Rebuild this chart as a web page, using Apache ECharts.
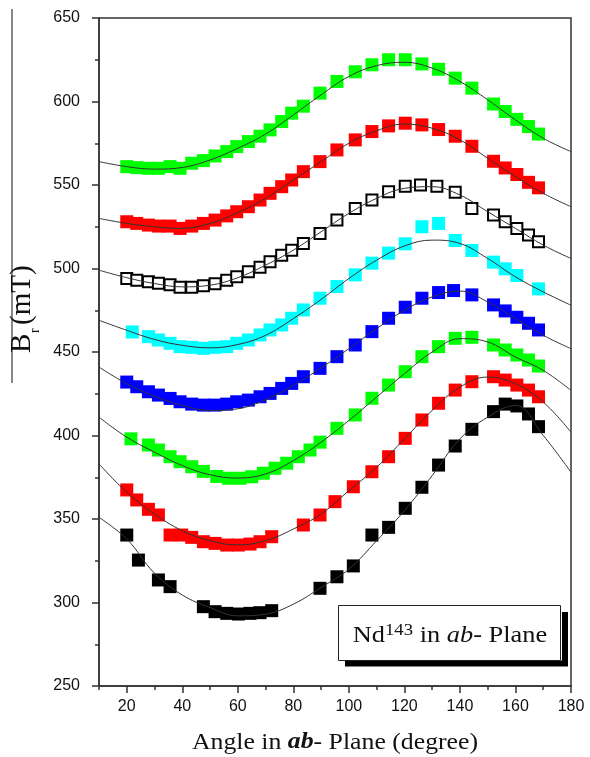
<!DOCTYPE html>
<html><head><meta charset="utf-8">
<script src="https://cdn.jsdelivr.net/npm/echarts@6/dist/echarts.min.js"></script>
<style>html,body{margin:0;padding:0;background:#fff}#c{width:590px;height:757px}</style>
</head><body><div id="c"></div>
<script>
// ---- data (angle in degrees, B_r in mT) ----
const xTickValues = [20,40,60,80,100,120,140,160,180];
const xMinorTickValues = [10,30,50,70,90,110,130,150,170];
const curveAngles = [10,20,30,40,50,60,70,80,90,100,110,120,130,140,150,160,170,180];

const greenTop = [[20,561],[23.6,560.4],[27.8,560],[31.4,560],[35.6,561],[39.2,560],[43.4,563],[47.6,564.6],[51.8,567.4],[56,570],[59.6,573],[63.8,576],[68,579.2],[71.6,583],[75.8,588],[79.4,593],[83.6,597.2],[89.6,605],[95.7,612],[102.3,617.8],[108.3,622],[114.3,625],[120.3,625],[126.3,622.5],[132.3,619.3],[138.3,614],[144.3,608],[152.1,598.5],[156.3,594],[160.5,589.3],[164.7,585],[168.3,580.5]];
const redTop = [[20,528],[23.6,527],[27.8,526],[31.4,525.4],[35.6,525.4],[39.2,524],[43.4,525.4],[47.6,527],[51.8,529],[56,531.5],[59.6,534],[63.8,537],[68,541],[71.6,545],[75.8,549],[79.4,553],[83.6,558],[89.6,564],[95.7,571],[102.3,577],[108.3,582],[114.3,585.4],[120.3,587],[126.3,586],[132.3,583.2],[138.3,579.2],[144.3,573.2],[152.1,564.2],[156.3,560.2],[160.5,556.3],[164.7,551.6],[168.3,548.3]];
const openBlack = [[20,494],[23.6,493],[27.8,492],[31.4,491.2],[35.6,490.2],[39.2,488.8],[43.4,488.8],[47.6,489.6],[51.8,490.8],[56,493],[59.6,495],[63.8,498],[68,500.7],[71.6,504],[75.8,508],[79.4,511],[83.6,515],[89.6,521],[95.7,529],[102.3,536],[108.3,541],[114.3,546],[120.3,549.3],[125.8,550],[131.7,549.3],[138.3,545.6],[144.3,536],[152.1,532],[156.3,528],[160.5,524],[164.7,520],[168.3,516]];
const cyan = [[22,462],[27.8,459.2],[31.4,457.2],[35.6,455.2],[39.2,453.2],[43.4,452.8],[47.6,452.2],[51.8,452.8],[56,453.2],[59.6,455.2],[63.8,457.2],[68,460.2],[71.6,463.2],[75.8,466.2],[79.4,470.2],[83.6,475.2],[89.6,482.2],[95.7,489.2],[102.3,496.2],[108.3,503.2],[114.3,509.2],[120.3,514.8],[126.3,525],[132.3,527],[138.3,516.8],[144.3,510.8],[152.1,503.8],[156.3,499.8],[160.5,495.8],[168.3,487.8]];
const blue = [[20,432],[23.6,429.2],[27.8,426.2],[31.4,424.2],[35.6,422.2],[39.2,420.2],[43.4,418.8],[47.6,418.2],[51.8,418.2],[56,418.8],[59.6,420.2],[63.8,421.2],[68,423.2],[71.6,425.2],[75.8,428.2],[79.4,431.2],[83.6,435.2],[89.6,440.2],[95.7,447.2],[102.3,454.2],[108.3,462.2],[114.3,470.2],[120.3,476.8],[126.3,482.2],[132.3,485.6],[137.7,486.8],[144.3,484.2],[152.1,478.2],[156.3,474.6],[160.5,470.8],[164.7,467.2],[168.3,463.2]];
const greenLow = [[21.5,398],[27.8,394.3],[31.4,391.3],[35.6,387.3],[39.2,384.3],[43.4,381.3],[47.6,378.5],[52.4,375.5],[56.6,374.4],[60.8,374.4],[65,375.3],[69.2,377.4],[73.4,380.4],[77.6,383.4],[81.8,387.3],[86,391.3],[89.6,396],[95.7,404.3],[102.3,412.3],[108.3,422.3],[114.3,430.2],[120.3,438.2],[126.3,447.2],[132.3,453.2],[138.3,458.2],[144.3,458.8],[152.1,454.2],[156.3,451.2],[160.5,448.2],[164.7,445.2],[168.3,441.6]];
const redLow = [[20,367.4],[23.6,361.4],[27.8,355.8],[31.4,352.4],[35.6,340.4],[39.8,340.4],[43.4,339],[47.6,336.4],[51.8,335.4],[56,334.4],[60.2,334.4],[64.4,335],[68,336.4],[72.2,339.4],[83.6,346.4],[89.6,352.4],[95,360.4],[101.6,369.3],[108.3,378.3],[114.3,387.3],[120.3,398.3],[126.3,409.3],[132.3,419.3],[138.3,427.2],[144.3,432.2],[152.1,435.2],[156.3,433.2],[160.5,430.2],[164.7,427.2],[168.3,423.2]];
const blackLow = [[20,340.4],[24.2,325.4],[31.4,313.5],[35.6,309.5],[47.6,297.5],[51.8,294.5],[56,293.5],[60.2,293.1],[64.4,293.5],[68,293.9],[72.2,295.1],[89.6,308.5],[95.7,315.4],[101.6,321.9],[108.3,340.4],[114.3,345],[120.3,356.4],[126.3,369],[132.3,382.3],[138.3,393.7],[144.3,403.7],[152.1,414.3],[156.3,418.8],[160.5,417.7],[164.7,412.9],[168.3,405.3]];

const fitGreenTop = [564,561,559.5,560.5,565,572,580.5,592,604,615,621.5,623.5,620,612,601,589,578,570];
const fitRedTop   = [530,527,525,524,527,533.5,542,553,564,575,582.5,586.5,584,577,566,555,545,537];
const fitOpen     = [499,494.5,491,489,490,494.5,502,511,522,533,542,548,549,544,534,524,514,506];
const fitCyan     = [469,463,457.5,454,452.5,454.5,460,470,481.5,494,505,513.5,517,515,506,495,486,478];
const fitBlue     = [441,431,423.5,418,415,416,421.5,430,440.5,452,464,475,483,486.5,480,470,460,452];
const fitGreenLow = [411,399,390,382,376.5,374.5,377,385,396,409,423,437,450,458,456,447,439,427];
const fitRedLow   = [383,366,353,343,337,334.5,337,344,353,367,381,398,415,429,435,431,420,402];
const fitBlack    = [351,338,317.5,304.5,297,292,293,299,309,320,337,355,376,398,411,418,400,378];

// ---- styles ----
const markerDefs = [
  {data: greenTop, fit: fitGreenTop, color: '#00ff00', open: false},
  {data: redTop, fit: fitRedTop, color: '#ff0000', open: false},
  {data: openBlack, fit: fitOpen, color: '#000000', open: true},
  {data: cyan, fit: fitCyan, color: '#00ffff', open: false},
  {data: blue, fit: fitBlue, color: '#0000ff', open: false},
  {data: greenLow, fit: fitGreenLow, color: '#00ff00', open: false},
  {data: redLow, fit: fitRedLow, color: '#ff0000', open: false},
  {data: blackLow, fit: fitBlack, color: '#000000', open: false}
];

const series = [];
markerDefs.forEach(function (d) {
  series.push({
    type: 'scatter', symbol: 'rect', symbolSize: d.open ? 11 : 13, z: 2,
    data: d.data, silent: true,
    itemStyle: d.open ? {color: '#ffffff', borderColor: '#000', borderWidth: 2, opacity: 1}
                      : {color: d.color, opacity: 1}
  });
  series.push({
    type: 'line', smooth: 0.4, symbol: 'none', z: 3, silent: true,
    data: curveAngles.map(function (a, i) { return [a, d.fit[i]]; }),
    lineStyle: {color: '#333', width: 1}
  });
});

const chart = echarts.init(document.getElementById('c'));
const serif = '"Liberation Serif","Times New Roman",serif';
const sans = '"Liberation Sans",Arial,sans-serif';
chart.setOption({
  animation: false,
  backgroundColor: '#fff',
  grid: {left: 99, right: 19, top: 18, bottom: 71, show: true, borderColor: '#333', borderWidth: 1.5},
  xAxis: [{
    type: 'value', min: 10, max: 180,
    axisLine: {show: true, lineStyle: {color: '#333', width: 1.5}},
    axisTick: {show: true, customValues: xTickValues, length: 7, lineStyle: {color: '#333', width: 1.5}},
    axisLabel: {customValues: xTickValues, fontSize: 16, color: '#111', fontFamily: sans, margin: 13},
    splitLine: {show: false}
  }, {
    type: 'value', min: 10, max: 180, position: 'bottom',
    axisLine: {show: false},
    axisTick: {show: true, customValues: xMinorTickValues, length: 4, lineStyle: {color: '#333', width: 1.5}},
    axisLabel: {show: false},
    splitLine: {show: false}
  }],
  yAxis: {
    type: 'value', min: 250, max: 650, interval: 50,
    axisLine: {show: true, lineStyle: {color: '#333', width: 1.5}},
    axisTick: {show: true, length: 7, lineStyle: {color: '#333', width: 1.5}},
    minorTick: {show: true, splitNumber: 2, length: 4, lineStyle: {color: '#333', width: 1.5}},
    axisLabel: {fontSize: 16, color: '#111', fontFamily: sans, margin: 19},
    splitLine: {show: false}
  },
  graphic: [
    {type: 'line', shape: {x1: 12, y1: 9, x2: 12, y2: 383}, style: {stroke: '#888', lineWidth: 2}, silent: true},
    // y-axis title, rotated
    {type: 'group', x: 22, y: 353, rotation: Math.PI / 2, silent: true, children: [
      {type: 'text', x: 0, y: 0, style: {text: 'B', font: '29px ' + serif, fill: '#111', align: 'left', verticalAlign: 'middle'}},
      {type: 'text', x: 20, y: 13, style: {text: 'r', font: '14px ' + serif, fill: '#111', align: 'left', verticalAlign: 'middle'}},
      {type: 'text', x: 28, y: 0, style: {text: '(mT)', font: '29px ' + serif, fill: '#111', align: 'left', verticalAlign: 'middle'}}
    ]},
    // x-axis title
    {type: 'text', x: 335, y: 742.5, scaleX: 1.12, silent: true,
      style: {text: '{n|Angle in }{b|ab}{n|- Plane (degree)}', align: 'center', verticalAlign: 'middle',
        rich: {
          n: {fontFamily: serif, fontSize: 23, fill: '#111'},
          b: {fontFamily: serif, fontSize: 23, fill: '#111', fontStyle: 'italic', fontWeight: 'bold'}
        }}},
    // legend box
    {type: 'rect', shape: {x: 562, y: 612, width: 6, height: 50}, style: {fill: '#000'}, silent: true},
    {type: 'rect', shape: {x: 345, y: 660.5, width: 223, height: 6}, style: {fill: '#000'}, silent: true},
    {type: 'rect', shape: {x: 338.5, y: 605.5, width: 222, height: 55}, style: {fill: '#fff', stroke: '#222', lineWidth: 1}, silent: true},
    {type: 'text', x: 450, y: 636, scaleX: 1.1, silent: true,
      style: {text: '{a|Nd}{s|143}{a| in }{i|ab}{a|- Plane}', align: 'center', verticalAlign: 'middle',
        rich: {
          a: {fontFamily: serif, fontSize: 24, fill: '#111', lineHeight: 28},
          i: {fontFamily: serif, fontSize: 24, fill: '#111', fontStyle: 'italic', lineHeight: 28},
          s: {fontFamily: serif, fontSize: 17, fill: '#111', verticalAlign: 'top', lineHeight: 28, padding: [0, 0, 7, 0]}
        }}}
  ],
  series: series
});
</script>
</body></html>
